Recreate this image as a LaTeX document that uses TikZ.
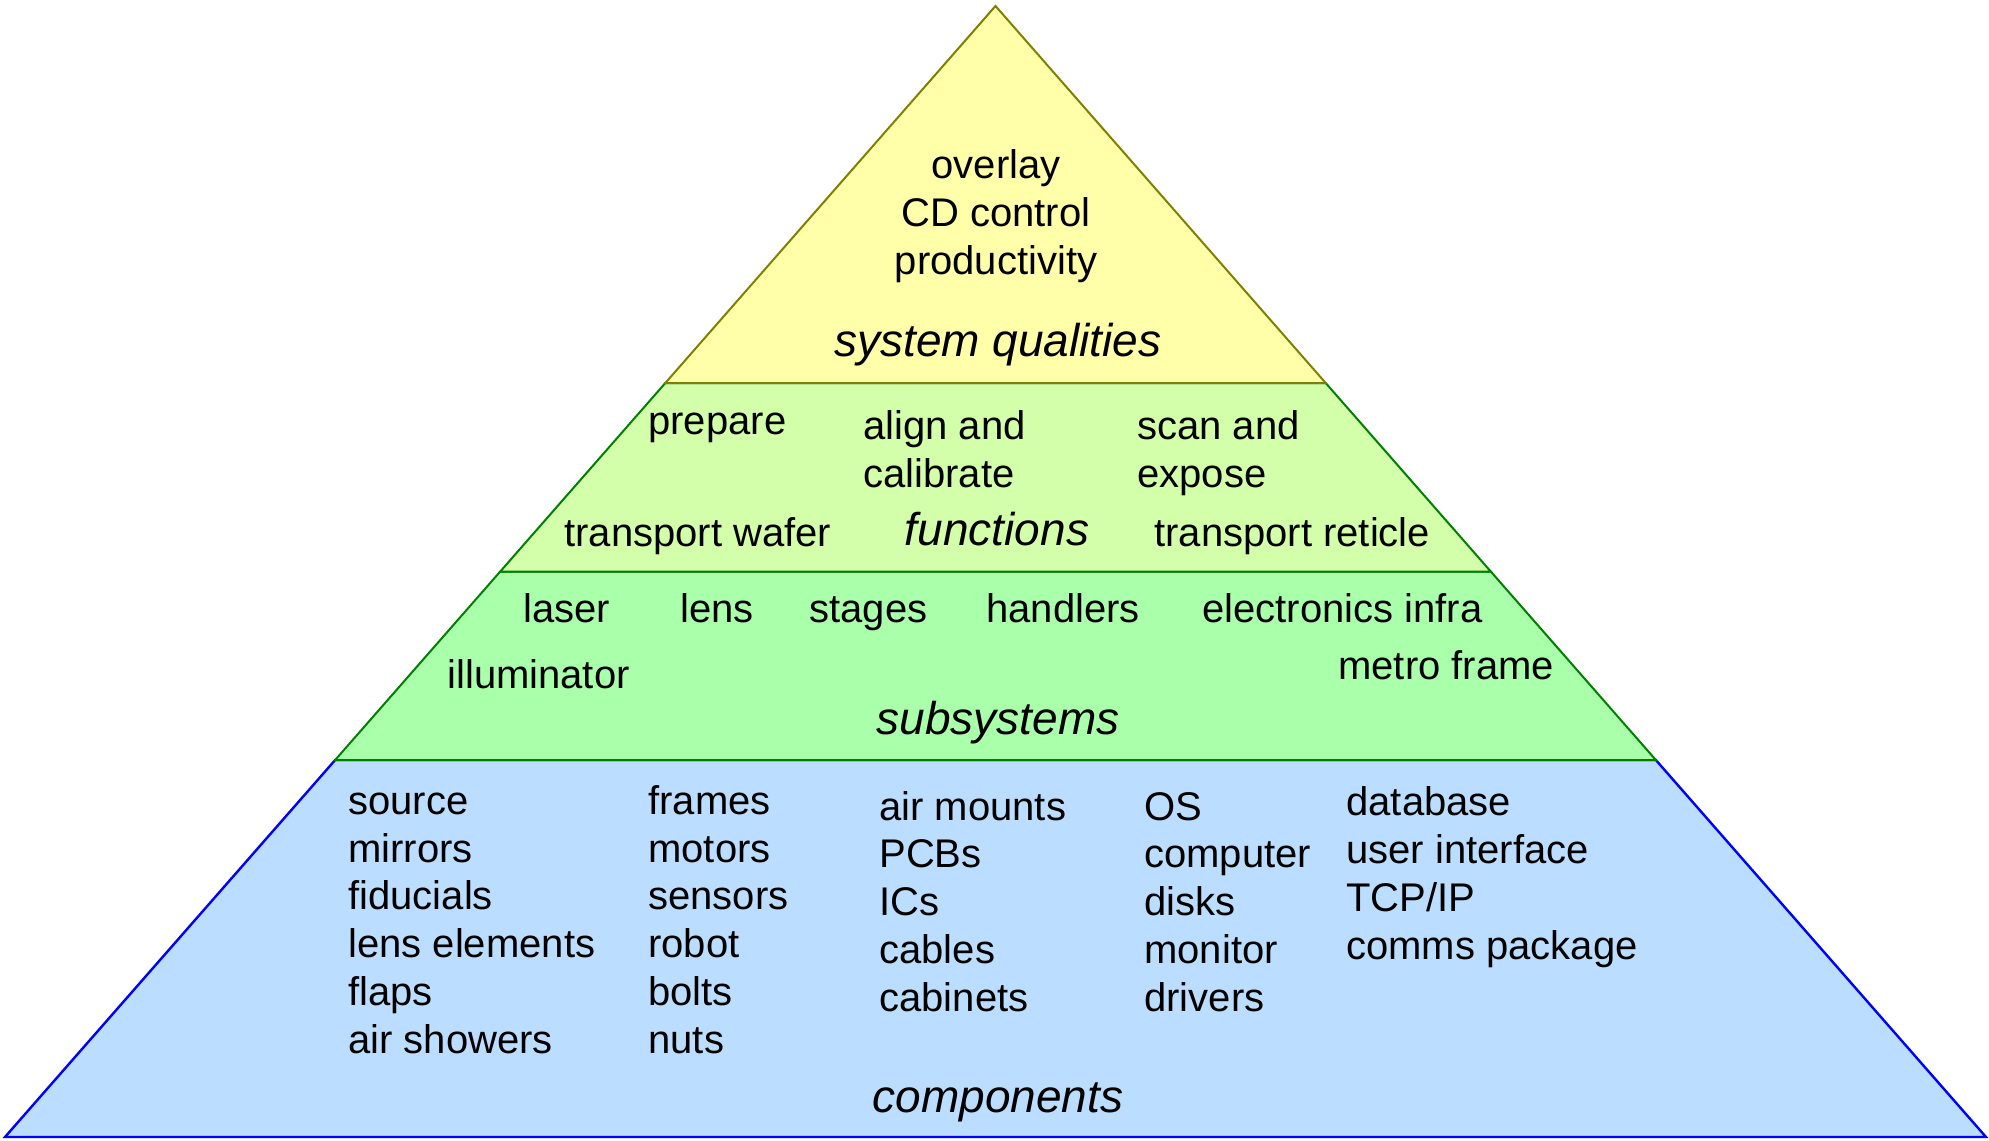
\documentclass[tikz,border=0pt]{standalone}
\usepackage{fontspec}
\setmainfont{Liberation Sans}
\usetikzlibrary{calc}
\definecolor{qualfill}{RGB}{255,255,170}
\definecolor{qualline}{RGB}{128,128,0}
\definecolor{funcfill}{RGB}{212,255,170}
\definecolor{subfill}{RGB}{170,255,170}
\definecolor{subline}{RGB}{0,128,0}
\definecolor{compfill}{RGB}{187,221,255}
\definecolor{compline}{RGB}{0,0,255}
\begin{document}
\begin{tikzpicture}[x=0.5pt,y=-0.5pt,
    item/.style={font=\fontsize{20}{23.85}\selectfont,align=left,anchor=base west,inner sep=0pt},
    layername/.style={font=\fontsize{23}{27}\selectfont\itshape,anchor=base,inner sep=0pt}]
    \useasboundingbox (0,0) rectangle (1989,1140);

    % Pyramid corners and layer boundaries
    \coordinate (apex) at (995.5,6);
    \coordinate (bl) at (5,1137);
    \coordinate (br) at (1986,1137);
    \coordinate (l1) at ($(bl)!1/3!(apex)$);
    \coordinate (r1) at ($(br)!1/3!(apex)$);
    \coordinate (l2) at ($(bl)!1/2!(apex)$);
    \coordinate (r2) at ($(br)!1/2!(apex)$);
    \coordinate (l3) at ($(bl)!2/3!(apex)$);
    \coordinate (r3) at ($(br)!2/3!(apex)$);

    % Layers, bottom up
    \filldraw[fill=compfill,draw=compline,line width=1.2pt] (bl) -- (br) -- (r1) -- (l1) -- cycle;
    \filldraw[fill=subfill,draw=subline,line width=1pt] (l1) -- (r1) -- (r2) -- (l2) -- cycle;
    \filldraw[fill=funcfill,draw=subline,line width=1pt] (l2) -- (r2) -- (r3) -- (l3) -- cycle;
    \filldraw[fill=qualfill,draw=qualline,line width=1pt] (l3) -- (r3) -- (apex) -- cycle;

    % System qualities (multi-line nodes sit on their last line)
    \node[item,align=center,anchor=base] (qual) at (996,274) {overlay\\CD control\\productivity};
    \node[layername] (qualname) at (998,356) {system qualities};

    % Functions
    \node[item] (prepare) at (648,434) {prepare};
    \node[item] (align) at (863,487) {align and\\calibrate};
    \node[item] (scan) at (1137,487) {scan and\\expose};
    \node[item] (wafer) at (564,546) {transport wafer};
    \node[item] (reticle) at (1154,546) {transport reticle};
    \node[layername] (funcname) at (997,545) {functions};

    % Subsystems
    \node[item] (laser) at (523,622) {laser};
    \node[item] (lens) at (680,622) {lens};
    \node[item] (stages) at (809,622) {stages};
    \node[item] (handlers) at (986,622) {handlers};
    \node[item] (infra) at (1202,622) {electronics infra};
    \node[item] (illum) at (447,688) {illuminator};
    \node[item] (metro) at (1338,679) {metro frame};
    \node[layername] (subname) at (998,734) {subsystems};

    % Components
    \node[item] (optics) at (348,1053) {source\\mirrors\\fiducials\\lens elements\\flaps\\air showers};
    \node[item] (mech) at (648,1053) {frames\\motors\\sensors\\robot\\bolts\\nuts};
    \node[item] (elec) at (879,1011) {air mounts\\PCBs\\ICs\\cables\\cabinets};
    \node[item] (comp) at (1144,1011) {OS\\computer\\disks\\monitor\\drivers};
    \node[item] (soft) at (1346,959) {database\\user interface\\TCP/IP\\comms package};
    \node[layername] (compname) at (998,1112) {components};
\end{tikzpicture}
\end{document}
